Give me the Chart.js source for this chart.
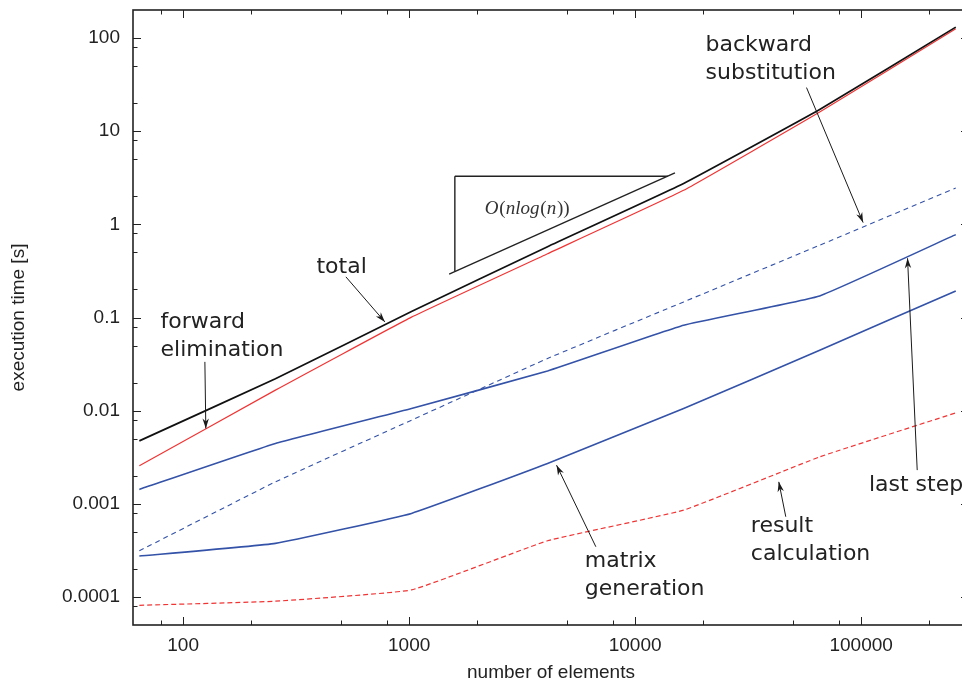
<!DOCTYPE html>
<html><head><meta charset="utf-8">
<script src="https://cdn.jsdelivr.net/npm/chart.js@4"></script>
<style>
html,body{margin:0;padding:0;overflow:hidden;background:#fff;width:962px;height:684px}
#wrap{position:absolute;left:0;top:0;width:970px;height:684px}
</style>
</head><body><div id="wrap"><canvas id="c"></canvas></div>
<script>
// ---- data ----
const elements = [64, 256, 1024, 4096, 16384, 65536, 262144];
const total = [0.00474, 0.022, 0.116, 0.575, 2.74, 17.05, 131];
const forwardElimination = [0.00256, 0.0166, 0.101, 0.484, 2.32, 16.07, 126];
const lastStep = [0.001426, 0.00444, 0.01055, 0.0267, 0.0827, 0.1706, 0.776];
const backwardSubstitution = [0.000313, 0.00172, 0.0079, 0.0363, 0.147, 0.597, 2.46];
const matrixGeneration = [0.000275, 0.000376, 0.000789, 0.00271, 0.01055, 0.0446, 0.193];
const resultCalculation = [0.0000813, 0.00009, 0.000119, 0.000401, 0.000855, 0.00319, 0.00946];

const xMajorTicks = [100, 1000, 10000, 100000];
const xMinorTicks = [80, 200, 500, 800, 2000, 5000, 8000, 20000, 50000, 80000, 200000];
const yMajorTicks = [0.0001, 0.001, 0.01, 0.1, 1, 10, 100];
const yMinorTicks = [0.00008, 0.0002, 0.0005, 0.0008, 0.002, 0.005, 0.008, 0.02, 0.05, 0.08,
                     0.2, 0.5, 0.8, 2, 5, 8, 20, 50, 80];

// annotation texts anchored in data coordinates
const labels = [
  {lines: ['total'], x: 389, y: 0.344},
  {lines: ['forward', 'elimination'], x: 79.4, y: 0.0897},
  {lines: ['backward', 'substitution'], x: 20490, y: 83.5},
  {lines: ['last step'], x: 108200, y: 0.00159},
  {lines: ['matrix', 'generation'], x: 5990, y: 0.000239},
  {lines: ['result', 'calculation'], x: 32500, y: 0.000577}
];
const arrows = [
  {from: [525, 0.273], to: [781, 0.0897]},
  {from: [124.8, 0.0334], to: [126, 0.00644]},
  {from: [57300, 29.4], to: [102000, 1.045]},
  {from: [177000, 0.0023], to: [160400, 0.4325]},
  {from: [6700, 0.000346], to: [4490, 0.0026]},
  {from: [46400, 0.000726], to: [43200, 0.00172]}
];
const slopeTriangle = [
  {from: [1593, 3.28], to: [1593, 0.316]},
  {from: [1593, 3.28], to: [13950, 3.28]},
  {from: [1503, 0.292], to: [15000, 3.56]}
];
const slopeLabel = {x: 2163, y: 1.45};

function pts(arr) { return elements.map((n, i) => ({x: n, y: arr[i]})); }

const RED = '#f03434', BLUE = '#3352a8';

const overlay = {
  id: 'overlay',
  afterDraw(chart) {
    const {ctx, chartArea: a, scales: {x, y}} = chart;
    const px = v => x.getPixelForValue(v), py = v => y.getPixelForValue(v);
    ctx.save();
    const line = (x1, y1, x2, y2) => { ctx.beginPath(); ctx.moveTo(x1, y1); ctx.lineTo(x2, y2); ctx.stroke(); };
    // inward ticks
    ctx.strokeStyle = '#222'; ctx.lineWidth = 1;
    const xt = (v, len) => { const p = Math.round(px(v)) + 0.5; line(p, a.bottom, p, a.bottom - len); line(p, a.top, p, a.top + len); };
    const yt = (v, len) => { const p = Math.round(py(v)) + 0.5; line(a.left, p, a.left + len, p); line(a.right, p, a.right - len, p); };
    xMajorTicks.forEach(v => xt(v, 8)); xMinorTicks.forEach(v => xt(v, 4.5));
    yMajorTicks.forEach(v => yt(v, 8)); yMinorTicks.forEach(v => yt(v, 4.5));
    // frame
    ctx.lineWidth = 1.6; ctx.strokeStyle = '#222';
    ctx.strokeRect(a.left, a.top, a.right - a.left, a.bottom - a.top);
    // slope triangle
    ctx.lineWidth = 1.4; ctx.strokeStyle = '#222';
    slopeTriangle.forEach(s => line(px(s.from[0]), py(s.from[1]), px(s.to[0]), py(s.to[1])));
    // arrows
    ctx.lineWidth = 1; ctx.strokeStyle = '#1a1a1a'; ctx.fillStyle = '#1a1a1a';
    arrows.forEach(ar => {
      const x1 = px(ar.from[0]), y1 = py(ar.from[1]), x2 = px(ar.to[0]), y2 = py(ar.to[1]);
      line(x1, y1, x2, y2);
      const ang = Math.atan2(y2 - y1, x2 - x1), L = 10, W = 3.2;
      const bx = x2 - L * Math.cos(ang), by = y2 - L * Math.sin(ang);
      const nx = -Math.sin(ang), ny = Math.cos(ang);
      const mx = x2 - 0.7 * L * Math.cos(ang), my = y2 - 0.7 * L * Math.sin(ang);
      ctx.beginPath(); ctx.moveTo(x2, y2);
      ctx.lineTo(bx + nx * W, by + ny * W); ctx.lineTo(mx, my); ctx.lineTo(bx - nx * W, by - ny * W);
      ctx.closePath(); ctx.fill();
    });
    // text labels
    ctx.fillStyle = '#222'; ctx.font = '22px "DejaVu Sans"'; ctx.textAlign = 'left'; ctx.textBaseline = 'middle';
    labels.forEach(l => l.lines.forEach((t, i) => ctx.fillText(t, px(l.x), py(l.y) + i * 28)));
    // O(nlog(n)) math label
    let cx = px(slopeLabel.x); const cy = py(slopeLabel.y);
    const segs = [['O', true], ['(', false], ['nlog', true], ['(', false], ['n', true], ['))', false]];
    ctx.fillStyle = '#333';
    segs.forEach(([t, it]) => {
      ctx.font = (it ? 'italic ' : '') + '19px "Liberation Serif"';
      ctx.fillText(t, cx, cy); cx += ctx.measureText(t).width + (it ? 0.6 : 0.3);
    });
    ctx.restore();
  }
};

const tickFont = {family: '"Liberation Sans", Arial, sans-serif', size: 19};
const titleFont = {family: '"Liberation Sans", Arial, sans-serif', size: 19};

new Chart(document.getElementById('c'), {
  type: 'line',
  data: {
    datasets: [
      {label: 'total', data: pts(total), borderColor: '#111', borderWidth: 1.7},
      {label: 'forward elimination', data: pts(forwardElimination), borderColor: RED, borderWidth: 1.2},
      {label: 'last step', data: pts(lastStep), borderColor: BLUE, borderWidth: 1.6},
      {label: 'backward substitution', data: pts(backwardSubstitution), borderColor: BLUE, borderWidth: 1.1, borderDash: [5, 4]},
      {label: 'matrix generation', data: pts(matrixGeneration), borderColor: BLUE, borderWidth: 1.6},
      {label: 'result calculation', data: pts(resultCalculation), borderColor: RED, borderWidth: 1.2, borderDash: [5, 3]}
    ]
  },
  options: {
    responsive: true, maintainAspectRatio: false, animation: false,
    layout: {padding: {top: 10, right: 1, left: 0, bottom: 0}},
    elements: {point: {radius: 0}, line: {tension: 0.1}},
    plugins: {legend: {display: false}, tooltip: {enabled: false}},
    scales: {
      x: {
        type: 'logarithmic', min: 60, max: 300000,
        grid: {display: false, drawTicks: false}, border: {display: false},
        afterBuildTicks: s => { s.ticks = xMajorTicks.map(v => ({value: v})); },
        afterFit: s => { s.height = 59; s.paddingLeft = 0; s.paddingRight = 0; },
        ticks: {autoSkip: false, maxRotation: 0, padding: 9, color: '#222', font: tickFont,
                callback: v => String(v)},
        title: {display: true, text: 'number of elements', color: '#222', font: titleFont, padding: {bottom: 0, top: 0}}
      },
      y: {
        type: 'logarithmic', min: 0.00005, max: 200,
        grid: {display: false, drawTicks: false}, border: {display: false},
        afterBuildTicks: s => { s.ticks = yMajorTicks.map(v => ({value: v})); },
        afterFit: s => { s.width = 133; s.paddingTop = 0; s.paddingBottom = 0; },
        ticks: {autoSkip: false, padding: 13, color: '#222', font: tickFont,
                callback: v => String(v)},
        title: {display: true, text: 'execution time [s]', color: '#222', font: titleFont, padding: {top: 7, bottom: 0}}
      }
    }
  },
  plugins: [overlay]
});
</script>
</body></html>
